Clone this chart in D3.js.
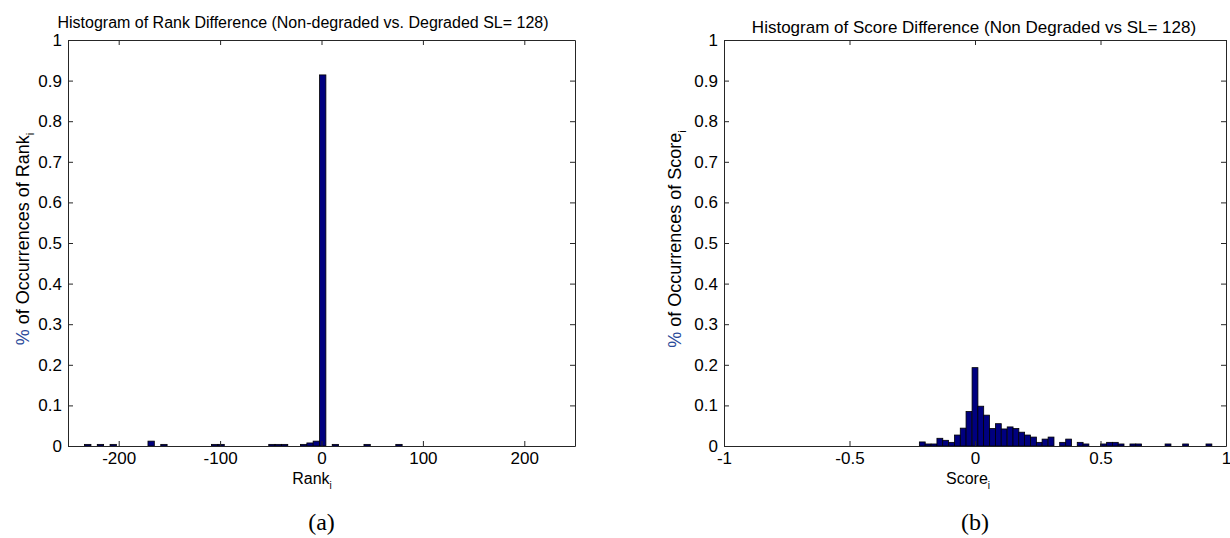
<!DOCTYPE html>
<html lang="en">
<head>
<meta charset="UTF-8">
<title>Rank and Score Difference Histograms</title>
<script src="https://cdn.jsdelivr.net/npm/d3@7/dist/d3.min.js"></script>
<style>
    body { margin: 0; background: #fff; }
    svg text { font-family: "Liberation Sans", Arial, sans-serif; fill: #000; }
    .caption { font-family: "Liberation Serif", "DejaVu Serif", serif; }
</style>
</head>
<body>
<svg id="fig" width="1230" height="538"></svg>
<script>
// (a) rank difference histogram, only non-empty bins listed
const rankBins = [-230.5, -218, -205.4, -168, -155.4, -105.3, -99, -48.9, -42.7, -36.4,
                  -17.6, -11.3, -5.1, 1.2, 13.7, 45, 76.4];
const rankFreq = [0.004, 0.004, 0.004, 0.012, 0.004, 0.004, 0.004, 0.004, 0.004, 0.004,
                  0.004, 0.0075, 0.012, 0.914, 0.004, 0.004, 0.004];
const rankBinWidth = 6.26;
const rankTicks = [-200, -100, 0, 100, 200];

// (b) score difference histogram, only non-empty bins listed
const scoreBins = [-0.210, -0.187, -0.163, -0.140, -0.117, -0.093, -0.070, -0.047, -0.024, 0.000,
                   0.023, 0.046, 0.070, 0.093, 0.116, 0.140, 0.163, 0.186, 0.209, 0.233,
                   0.256, 0.279, 0.303, 0.349, 0.373, 0.419, 0.442, 0.512, 0.536, 0.559,
                   0.582, 0.629, 0.652, 0.769, 0.839, 0.932];
const scoreFreq = [0.010, 0.005, 0.005, 0.019, 0.014, 0.009, 0.027, 0.044, 0.085, 0.193,
                   0.098, 0.076, 0.043, 0.055, 0.042, 0.047, 0.043, 0.034, 0.027, 0.022,
                   0.009, 0.017, 0.022, 0.009, 0.017, 0.009, 0.005, 0.005, 0.009, 0.009,
                   0.005, 0.005, 0.005, 0.005, 0.005, 0.005];
const scoreBinWidth = 0.0233;
const scoreTicks = [-1, -0.5, 0, 0.5, 1];

const yTicks = [0, 0.1, 0.2, 0.3, 0.4, 0.5, 0.6, 0.7, 0.8, 0.9, 1];

const svg = d3.select('#fig');

function drawPanel(p) {
    const x = d3.scaleLinear().domain(p.xDomain).range([p.left, p.right]);
    const y = d3.scaleLinear().domain([0, 1]).range([p.bottom, p.top]);
    const g = svg.append('g');

    // bars
    g.selectAll('rect.bar')
        .data(p.bins.map((c, i) => ({ c: c, v: p.freq[i] })))
        .enter()
        .append('rect')
        .attr('class', 'bar')
        .attr('x', d => x(d.c - p.binWidth / 2))
        .attr('width', d => x(d.c + p.binWidth / 2) - x(d.c - p.binWidth / 2))
        .attr('y', d => y(d.v))
        .attr('height', d => y(0) - y(d.v))
        .attr('fill', '#00007f')
        .attr('stroke', '#000')
        .attr('stroke-width', 0.8);

    const fmt = d => String(d);
    const bottomAxis = g.append('g')
        .attr('transform', 'translate(0,' + p.bottom + ')')
        .call(d3.axisBottom(x).tickValues(p.xTicks).tickFormat(fmt)
            .tickSizeInner(-5).tickSizeOuter(0).tickPadding(6));
    const topAxis = g.append('g')
        .attr('transform', 'translate(0,' + p.top + ')')
        .call(d3.axisTop(x).tickValues(p.xTicks).tickFormat('')
            .tickSizeInner(-5).tickSizeOuter(0));
    const leftAxis = g.append('g')
        .attr('transform', 'translate(' + p.left + ',0)')
        .call(d3.axisLeft(y).tickValues(yTicks).tickFormat(fmt)
            .tickSizeInner(-5).tickSizeOuter(0).tickPadding(6));
    const rightAxis = g.append('g')
        .attr('transform', 'translate(' + p.right + ',0)')
        .call(d3.axisRight(y).tickValues(yTicks).tickFormat('')
            .tickSizeInner(-5).tickSizeOuter(0));

    [bottomAxis, topAxis, leftAxis, rightAxis].forEach(a => {
        a.selectAll('path, line').attr('stroke', '#262626');
        a.selectAll('text').attr('font-size', 17).attr('fill', '#000')
            .style('font-family', '"Liberation Sans", Arial, sans-serif');
    });

    // title
    g.append('text')
        .attr('x', p.titleX)
        .attr('y', p.titleY)
        .attr('text-anchor', 'middle')
        .attr('font-size', p.titleSize)
        .text(p.title);

    // x label with subscript
    const xl = g.append('text')
        .attr('x', p.xLabelX)
        .attr('y', 484)
        .attr('text-anchor', 'middle')
        .attr('font-size', 16);
    xl.append('tspan').text(p.xName);
    xl.append('tspan').attr('font-size', 10).attr('dy', 5).text('i');

    // y label, rotated
    const yl = g.append('text')
        .attr('transform', 'translate(' + p.yLabelX + ',' + ((p.top + p.bottom) / 2 - 4) + ') rotate(-90)')
        .attr('text-anchor', 'middle')
        .attr('font-size', 18);
    yl.append('tspan').style('fill', '#2a4a9a').text('%');
    yl.append('tspan').text(' of Occurrences of ' + p.xName);
    yl.append('tspan').attr('font-size', 11).attr('dy', 5).text('i');

    // subfigure caption
    svg.append('text')
        .attr('class', 'caption')
        .attr('x', (p.left + p.right) / 2)
        .attr('y', 530)
        .attr('text-anchor', 'middle')
        .attr('font-size', 24)
        .text(p.caption);
}

drawPanel({
    bins: rankBins, freq: rankFreq, binWidth: rankBinWidth,
    xDomain: [-250, 250], xTicks: rankTicks,
    left: 68, right: 575, top: 40, bottom: 446,
    title: 'Histogram of Rank Difference (Non-degraded vs. Degraded SL= 128)',
    titleX: 303, titleY: 28, titleSize: 16,
    xName: 'Rank', xLabelX: 312, yLabelX: 29, caption: '(a)'
});

drawPanel({
    bins: scoreBins, freq: scoreFreq, binWidth: scoreBinWidth,
    xDomain: [-1, 1], xTicks: scoreTicks,
    left: 724, right: 1226, top: 40, bottom: 446,
    title: 'Histogram of Score Difference (Non Degraded vs SL= 128)',
    titleX: 974, titleY: 33, titleSize: 17,
    xName: 'Score', xLabelX: 968, yLabelX: 681, caption: '(b)'
});
</script>
</body>
</html>
